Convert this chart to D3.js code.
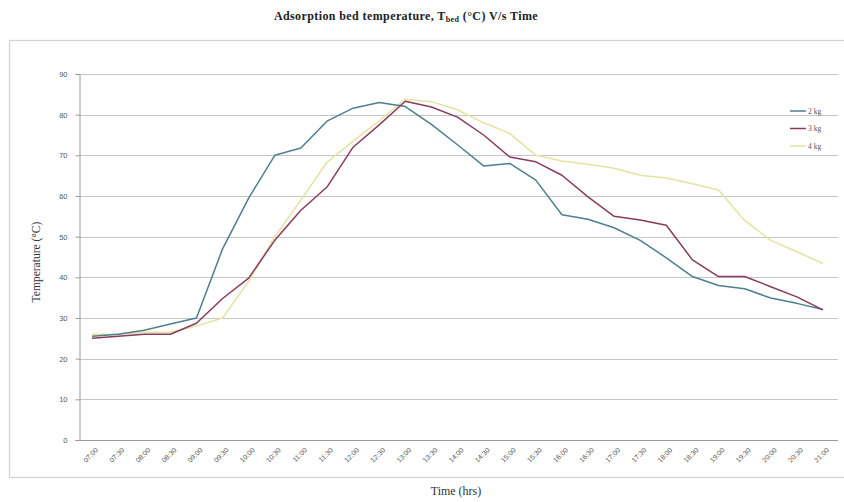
<!DOCTYPE html>
<html>
<head>
<meta charset="utf-8">
<script src="https://cdn.jsdelivr.net/npm/d3@7"></script>
<style>
  body { margin: 0; background: #fff; }
  svg { font-family: "Liberation Serif", "DejaVu Serif", serif; }
</style>
</head>
<body>
<script>
const width = 844, height = 502;
const margin = { top: 74, right: 6, bottom: 62, left: 79 };

// time labels, every half hour
const times = ["07:00","07:30","08:00","08:30","09:00","09:30","10:00","10:30","11:00","11:30",
  "12:00","12:30","13:00","13:30","14:00","14:30","15:00","15:30","16:00","16:30",
  "17:00","17:30","18:00","18:30","19:00","19:30","20:00","20:30","21:00"];

const kg2 = [25.5,26,27,28.5,30,47,59.5,70,71.8,78.4,81.6,83,82,77.6,72.6,67.4,68,63.9,55.4,54.3,
  52.2,49.1,44.8,40.2,38,37.2,34.9,33.6,32.1];
const kg3 = [25,25.5,26,26,28.7,34.8,39.8,49.1,56.5,62.2,72,77.5,83.3,81.9,79.4,75,69.6,68.4,65.1,59.8,
  55,54.1,52.8,44.3,40.2,40.2,37.7,35.2,32];
const kg4 = [26,26,26.5,26.5,28,30,39,50,59,68.3,73.5,78.5,83.8,83.2,81.2,78,75.4,70,68.6,67.8,
  66.8,65.1,64.4,63,61.5,54,49.1,46.3,43.4];

const seriesNames = ["2 kg", "3 kg", "4 kg"];
const seriesValues = [kg2, kg3, kg4];
const colors = ["#4d7f8e", "#8a3b5c", "#e3e3a2"];
const yTicks = [0,10,20,30,40,50,60,70,80,90];

const svg = d3.select("body").append("svg")
  .attr("width", width)
  .attr("height", height);

// outer chart frame (runs off the right edge in the reference)
svg.append("rect")
  .attr("x", 9.5).attr("y", 40.5)
  .attr("width", 840).attr("height", 437)
  .attr("fill", "none")
  .attr("stroke", "#d4d4d4")
  .attr("stroke-width", 1.3);

const y0 = 440;

const x = d3.scalePoint()
  .domain(times)
  .range([margin.left, width - margin.right - 2])
  .padding(0.5);

const y = d3.scaleLinear()
  .domain([0, 90])
  .range([y0, margin.top]);

// gridlines
svg.append("g")
  .selectAll("line")
  .data(yTicks.filter(d => d > 0))
  .enter().append("line")
  .attr("x1", margin.left)
  .attr("x2", width - margin.right)
  .attr("y1", d => Math.round(y(d)) + 0.5)
  .attr("y2", d => Math.round(y(d)) + 0.5)
  .attr("stroke", "#c6c6c6")
  .attr("stroke-width", 1.2);

// y axis
const yAxis = svg.append("g")
  .attr("transform", `translate(${margin.left + 0.5},0)`)
  .call(d3.axisLeft(y).tickValues(yTicks).tickSize(4).tickPadding(8));
yAxis.select(".domain").attr("stroke", "#9a9a9a");
yAxis.selectAll(".tick line").attr("stroke", "#9a9a9a");
yAxis.selectAll("text").attr("fill", "#555").style("font-size", "7.5px");

// x axis
const xAxis = svg.append("g")
  .attr("transform", `translate(0,${y0 + 0.5})`)
  .call(d3.axisBottom(x).tickSize(0).tickPadding(5));
xAxis.select(".domain").attr("stroke", "#9a9a9a").attr("d", `M${margin.left},0H${width - margin.right}`);
xAxis.selectAll("text")
  .attr("fill", "#555")
  .style("font-size", "7px")
  .attr("text-anchor", "end")
  .attr("transform", "translate(-1,3) rotate(-45)");

// lines, drawn 4 kg first so darker lines sit on top
const line = d3.line()
  .x((d, i) => x(times[i]))
  .y(d => y(d));

[2, 0, 1].forEach(k => {
  svg.append("path")
    .datum(seriesValues[k])
    .attr("fill", "none")
    .attr("stroke", colors[k])
    .attr("stroke-width", 1.5)
    .attr("stroke-linejoin", "round")
    .attr("d", line);
});

// legend
const legend = svg.append("g").attr("transform", "translate(790,111)");
seriesNames.forEach((name, i) => {
  const g = legend.append("g").attr("transform", `translate(0,${i * 17.5})`);
  g.append("line")
    .attr("x1", 0).attr("x2", 16)
    .attr("stroke", colors[i]).attr("stroke-width", 1.5);
  g.append("text")
    .attr("x", 18).attr("y", 2.5)
    .attr("fill", "#555")
    .style("font-size", "7.5px")
    .text(name);
});

// title
const title = svg.append("text")
  .attr("x", 406).attr("y", 20)
  .attr("text-anchor", "middle")
  .style("font-size", "12px")
  .style("font-weight", "bold")
  .style("letter-spacing", "0.4px")
  .attr("fill", "#222");
title.append("tspan").text("Adsorption bed temperature, T");
title.append("tspan").attr("dy", 2).style("font-size", "8px").text("bed");
title.append("tspan").attr("dy", -2).text(" (°C) V/s Time");

// axis titles
svg.append("text")
  .attr("transform", "translate(40,262) rotate(-90)")
  .attr("text-anchor", "middle")
  .style("font-size", "11.5px")
  .attr("fill", "#333")
  .text("Temperature (°C)");

svg.append("text")
  .attr("x", 456).attr("y", 495)
  .attr("text-anchor", "middle")
  .style("font-size", "12px")
  .attr("fill", "#333")
  .text("Time (hrs)");
</script>
</body>
</html>
